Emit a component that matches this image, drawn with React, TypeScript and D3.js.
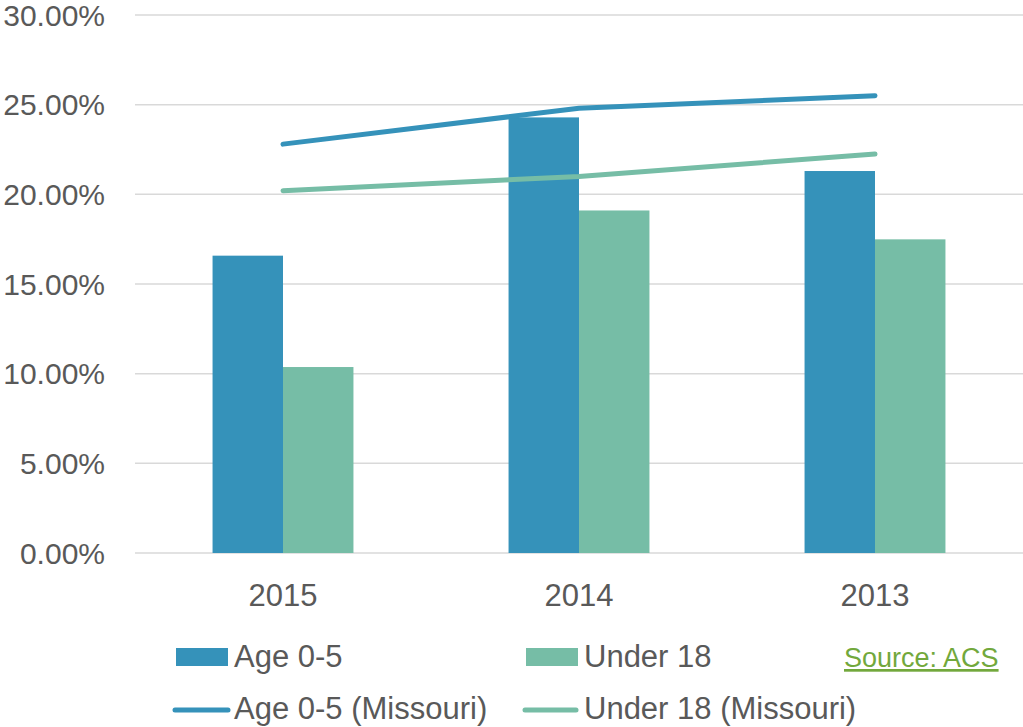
// @ts-nocheck
import React from "react";
import * as d3 from "d3";

const years = ["2015", "2014", "2013"];
const age05 = [0.1658, 0.2429, 0.213];
const under18 = [0.1037, 0.191, 0.1749];
const age05Missouri = [0.228, 0.248, 0.255];
const under18Missouri = [0.202, 0.21, 0.2225];
const yTicks = [0, 0.05, 0.1, 0.15, 0.2, 0.25, 0.3];

const BLUE = "#3592ba";
const GREEN = "#76bda6";
const TEXT = "#595959";
const FONT = "'Liberation Sans', Arial, sans-serif";

export default function App() {
  const width = 1023;
  const height = 727;
  const left = 135;
  const right = 1023;
  const top = 15;
  const bottom = 553;

  const x = d3.scaleBand().domain(years).range([left, right]).paddingInner(0.524).paddingOuter(0.262);
  const xSeries = d3.scaleBand().domain(["age", "u18"]).range([0, x.bandwidth()]).padding(0);
  const y = d3.scaleLinear().domain([0, 0.3]).range([bottom, top]);
  const fmt = d3.format(".2%");

  const center = (d) => x(d) + x.bandwidth() / 2;
  const line = d3
    .line()
    .x((d, i) => center(years[i]))
    .y((d) => y(d));

  return (
    <svg
      width={width}
      height={height}
      style={{ position: "absolute", left: 0, top: 0, background: "#fff" }}
      fontFamily={FONT}
    >
      {/* gridlines */}
      {yTicks.map((t) => (
        <line key={t} x1={left} x2={right} y1={y(t)} y2={y(t)} stroke="#d9d9d9" strokeWidth={1.5} />
      ))}
      {yTicks.map((t) => (
        <text key={"l" + t} x={105} y={y(t)} dy="0.36em" textAnchor="end" fontSize={30} fill={TEXT}>
          {fmt(t)}
        </text>
      ))}

      {/* bars */}
      {years.map((yr, i) => (
        <g key={yr} transform={`translate(${x(yr)},0)`}>
          <rect x={xSeries("age")} y={y(age05[i])} width={xSeries.bandwidth()} height={bottom - y(age05[i])} fill={BLUE} />
          <rect x={xSeries("u18")} y={y(under18[i])} width={xSeries.bandwidth()} height={bottom - y(under18[i])} fill={GREEN} />
        </g>
      ))}

      {/* missouri lines */}
      <path d={line(age05Missouri)} fill="none" stroke={BLUE} strokeWidth={5} strokeLinecap="round" strokeLinejoin="round" />
      <path d={line(under18Missouri)} fill="none" stroke={GREEN} strokeWidth={5} strokeLinecap="round" strokeLinejoin="round" />

      {/* category labels */}
      {years.map((yr) => (
        <text key={"x" + yr} x={center(yr)} y={606} textAnchor="middle" fontSize={31} fill={TEXT}>
          {yr}
        </text>
      ))}

      {/* legend */}
      <g fontSize={31} fill={TEXT}>
        <rect x={176} y={648} width={52} height={18} fill={BLUE} />
        <text x={234} y={667}>Age 0-5</text>
        <rect x={526} y={648} width={52} height={18} fill={GREEN} />
        <text x={584} y={667}>Under 18</text>
        <line x1={175} x2={228} y1={710} y2={710} stroke={BLUE} strokeWidth={5} strokeLinecap="round" />
        <text x={234} y={719}>Age 0-5 (Missouri)</text>
        <line x1={525} x2={576} y1={710} y2={710} stroke={GREEN} strokeWidth={5} strokeLinecap="round" />
        <text x={584} y={719}>Under 18 (Missouri)</text>
      </g>
      <text x={844} y={667} fontSize={27} fill="#72a83c" textDecoration="underline">
        Source: ACS
      </text>
    </svg>
  );
}
